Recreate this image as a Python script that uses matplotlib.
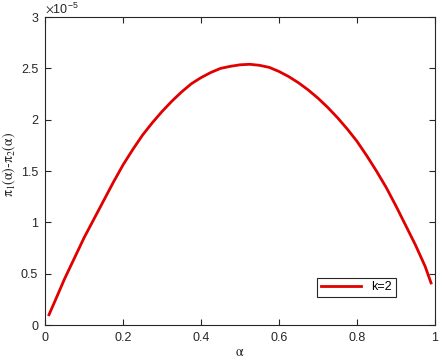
import numpy as np
import matplotlib
matplotlib.use("Agg")
import matplotlib.pyplot as plt
from matplotlib.ticker import ScalarFormatter

plt.rcParams['font.family'] = ['Liberation Sans', 'DejaVu Sans']
plt.rcParams['mathtext.fontset'] = 'stix'
plt.rcParams['mathtext.default'] = 'rm'

# values (y in units of 1e-5)
alpha = [0.01, 0.025, 0.05, 0.075, 0.10, 0.125, 0.15, 0.175, 0.20, 0.225,
         0.25, 0.275, 0.30, 0.325, 0.35, 0.375, 0.40, 0.425, 0.45, 0.475,
         0.50, 0.525, 0.55, 0.575, 0.60, 0.625, 0.65, 0.675, 0.70, 0.725,
         0.75, 0.775, 0.80, 0.825, 0.85, 0.875, 0.90, 0.925, 0.95, 0.975,
         0.99]
diff = [0.10, 0.23, 0.45, 0.65, 0.85, 1.03, 1.21, 1.39, 1.56, 1.71,
        1.85, 1.97, 2.08, 2.18, 2.27, 2.35, 2.41, 2.46, 2.50, 2.52,
        2.535, 2.54, 2.53, 2.51, 2.47, 2.42, 2.36, 2.29, 2.21, 2.12,
        2.02, 1.91, 1.79, 1.65, 1.50, 1.34, 1.16, 0.97, 0.78, 0.57,
        0.41]
diff = np.array(diff) * 1e-5

dark = '#262626'
fig = plt.figure(figsize=(4.42, 3.61), dpi=100)
ax = fig.add_axes([0.102, 0.0997, 0.882, 0.853])

ax.plot(alpha, diff, color='#e00000', lw=2, label='k=2')

ax.set_xlim(0, 1)
ax.set_ylim(0, 3e-5)
ax.set_xticks([0, 0.2, 0.4, 0.6, 0.8, 1])
ax.set_xticklabels(['0', '0.2', '0.4', '0.6', '0.8', '1'])
ax.set_yticks(np.arange(0, 3.01e-5, 0.5e-5))


class MatlabFmt(ScalarFormatter):
    def __call__(self, x, pos=None):
        return '%g' % round(x / 1e-5, 6)


fmt = MatlabFmt(useMathText=True)
fmt.set_powerlimits((0, 0))
ax.yaxis.set_major_formatter(fmt)
ax.yaxis.get_offset_text().set_fontsize(9)
ax.yaxis.get_offset_text().set_color(dark)

ax.tick_params(direction='in', top=True, right=True, length=4, width=0.8,
               labelsize=9, colors=dark, pad=5)
for s in ax.spines.values():
    s.set_color(dark)
    s.set_linewidth(0.8)

ax.set_xlabel(r'$\alpha$', fontsize=10, color=dark, va='center')
ax.xaxis.set_label_coords(0.5, -0.088)
ax.set_ylabel(r'$\pi_1(\alpha)$-$\pi_2(\alpha)$', fontsize=10, color=dark,
              va='center')
ax.yaxis.set_label_coords(-0.092, 0.52)

leg = ax.legend(loc='lower right', bbox_to_anchor=(0.915, 0.07), fontsize=9,
                fancybox=False, framealpha=1, edgecolor=dark, handlelength=3.2,
                borderpad=0.3)
leg.get_frame().set_linewidth(0.8)

fig.savefig('out.png', dpi=100)
